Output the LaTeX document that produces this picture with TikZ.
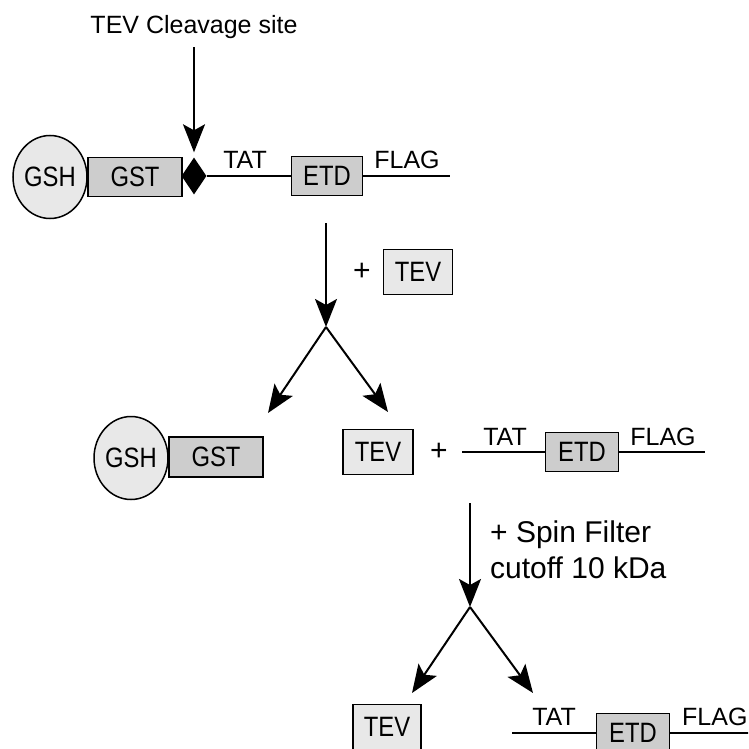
\documentclass[tikz,border=0pt]{standalone}
\usepackage{fontspec}
\setmainfont{Liberation Sans}
\newfontfamily\boxfont{Liberation Sans}[FakeStretch=0.85]
\usetikzlibrary{arrows.meta, positioning, shapes.geometric}
\definecolor{gstcol}{RGB}{205,205,205}
\definecolor{palecol}{RGB}{232,232,232}

\begin{document}
\begin{tikzpicture}[
  x=1pt, y=-1pt,
  font=\fontsize{25}{30}\selectfont,
  gsh/.style={draw, line width=1.5pt, fill=palecol, ellipse, inner sep=0pt,
              minimum width=74pt, minimum height=83pt,
              font=\boxfont\fontsize{28}{32}\selectfont},
  dombox/.style={draw, line width=1.7pt, fill=gstcol, inner sep=0pt,
                 minimum height=39pt, font=\boxfont\fontsize{28}{32}\selectfont},
  tevbox/.style={draw, line width=1.7pt, fill=palecol, inner sep=0pt,
                 minimum width=69pt, minimum height=45pt,
                 font=\boxfont\fontsize{28}{32}\selectfont},
  site/.style={diamond, fill=black, inner sep=0pt,
               minimum width=25pt, minimum height=37pt},
  tag/.style={anchor=base, inner sep=0pt},
  plus/.style={font=\fontsize{30}{34}\selectfont, inner sep=0pt},
  linker/.style={line width=1.6pt},
  flow/.style={-{Stealth[length=28pt, width=22pt, inset=6pt]}, line width=2pt}
]
  \useasboundingbox (0,0) rectangle (748,749);
  \clip (0,0) rectangle (748,749);

  % GST-TAT-ETD fusion on the beads
  \node[tag] (cleavetxt) at (194,34) {TEV Cleavage site};
  \node[gsh] (gsh1) at (50,177) {GSH};
  \node[dombox, minimum width=94pt] (gst1) at (135,177) {GST};
  \node[site] (site1) at (194,176) {};
  \node[dombox, minimum width=71pt] (etd1) at (327,176) {ETD};
  \coordinate (end1) at (450,176);
  \node[tag] (tat1) at (245,168) {TAT};
  \node[tag] (flag1) at (407,168) {FLAG};
  \draw[linker] (site1) -- (etd1) (etd1) -- (end1);
  \draw[flow, shorten <=8pt, shorten >=5pt] (cleavetxt.south) -- (site1.north);

  % cleavage by TEV
  \coordinate (top1) at (326,223);
  \coordinate (split1) at (326,327);
  \coordinate (left1) at (268,413);
  \coordinate (right1) at (388,412);
  \node[plus] (plus1) at (362,272) {+};
  \node[tevbox] (tev1) at (418,272) {TEV};
  \draw[flow] (top1) -- (split1);
  \draw[flow] (split1) -- (left1);
  \draw[flow] (split1) -- (right1);

  \node[gsh] (gsh2) at (131,458) {GSH};
  \node[dombox, minimum width=94pt, minimum height=40pt] (gst2) at (216,457) {GST};
  \node[tevbox, minimum width=70pt] (tev2) at (378,452) {TEV};
  \node[plus] (plus2) at (439,452) {+};
  \coordinate (start2) at (462,452);
  \node[dombox, minimum width=73pt] (etd2) at (582,452) {ETD};
  \coordinate (end2) at (705,452);
  \node[tag] (tat2) at (505,445) {TAT};
  \node[tag] (flag2) at (663,445) {FLAG};
  \draw[linker] (start2) -- (etd2) (etd2) -- (end2);

  % spin filter
  \coordinate (top2) at (470,503);
  \coordinate (split2) at (470,607);
  \coordinate (left2) at (412,693);
  \coordinate (right2) at (533,693);
  \node[anchor=base west, align=left, inner sep=0pt,
        font=\fontsize{30}{36}\selectfont] (spin) at (490,578)
    {+ Spin Filter\\cutoff 10 kDa};
  \draw[flow] (top2) -- (split2);
  \draw[flow] (split2) -- (left2);
  \draw[flow] (split2) -- (right2);

  \node[tevbox, minimum width=68pt] (tev3) at (387,727) {TEV};
  \coordinate (start3) at (512,733);
  \node[dombox, minimum width=73pt] (etd3) at (633,733) {ETD};
  \coordinate (end3) at (760,733);
  \node[tag] (tat3) at (554,725) {TAT};
  \node[tag, anchor=base west] (flag3) at (682,725) {FLAG};
  \draw[linker] (start3) -- (etd3) (etd3) -- (end3);
\end{tikzpicture}
\end{document}
